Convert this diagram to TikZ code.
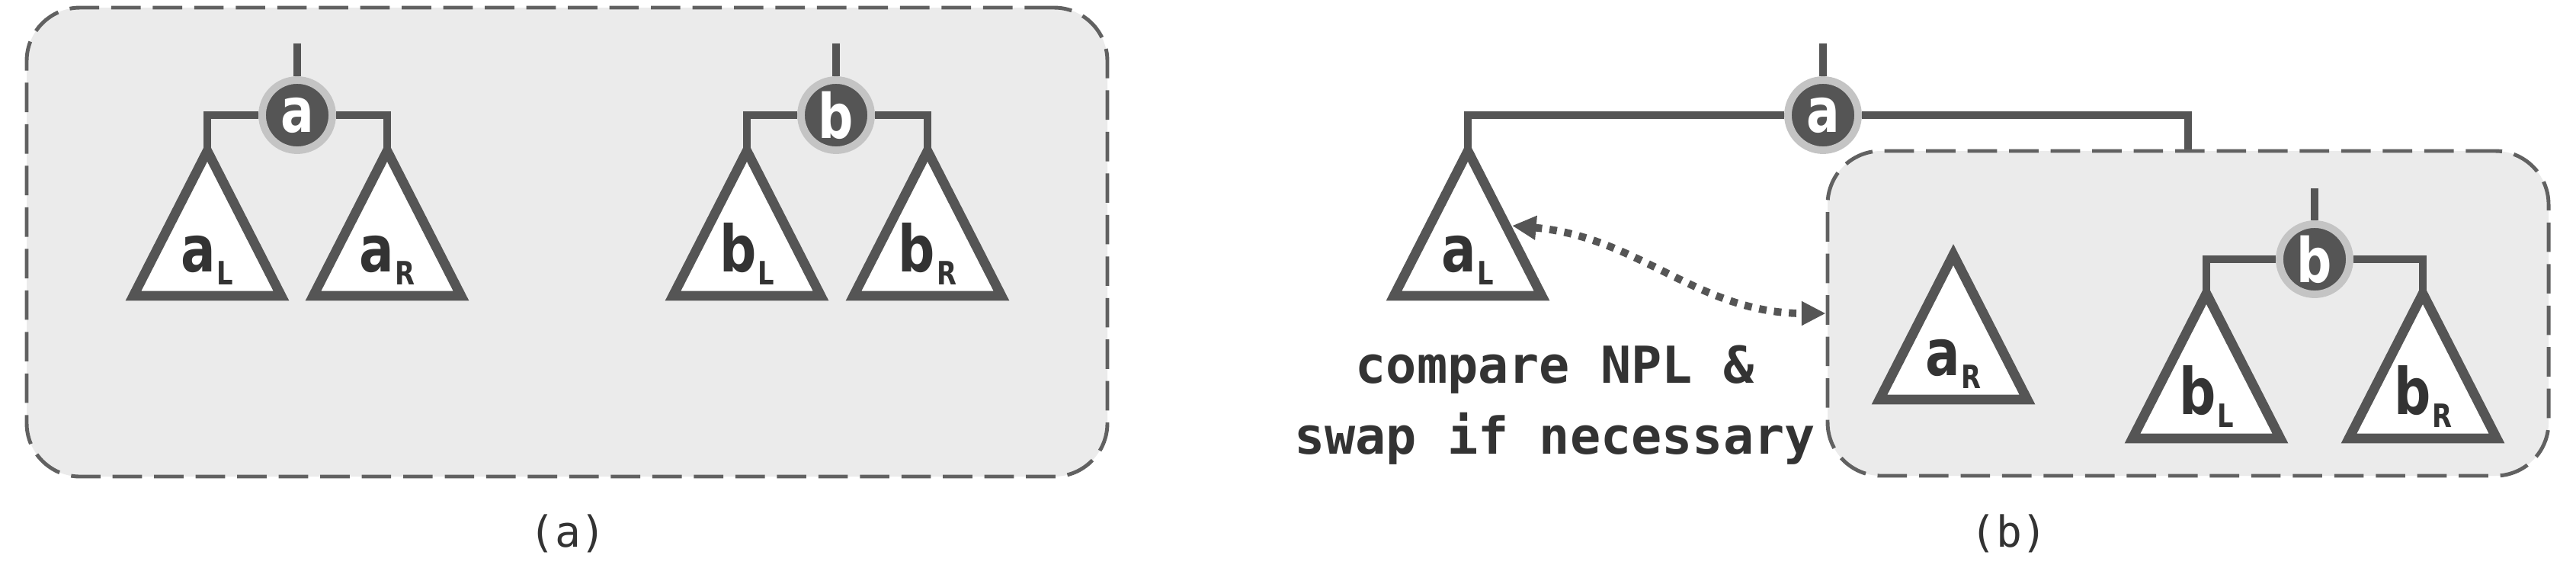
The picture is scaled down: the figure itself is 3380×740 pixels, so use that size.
\documentclass[tikz,border=0pt]{standalone}
\usepackage{fontspec}
\setmonofont{DejaVu Sans Mono}
\newfontfamily\treefont[FakeStretch=0.8]{DejaVu Sans}
\usetikzlibrary{arrows.meta,positioning}

\definecolor{linegray}{HTML}{555555}
\definecolor{ringgray}{HTML}{C4C4C4}
\definecolor{boxgray}{HTML}{EBEBEB}
\definecolor{dashgray}{HTML}{616161}
\definecolor{textgray}{HTML}{333333}

\begin{document}
\begin{tikzpicture}[x=0.1mm,y=-0.1mm,
    panel/.style={draw=dashgray, fill=boxgray, line width=1.4pt, dash pattern=on 11pt off 4.5pt,
      rounded corners=7mm, inner sep=0},
    keynode/.style={circle, draw=ringgray, fill=linegray, line width=2.8pt, minimum size=9.2mm,
      inner sep=0, text=white, font=\treefont\bfseries\fontsize{23}{23}\selectfont},
    branch/.style={draw=linegray, line width=2.6pt},
    subtree/.style={draw=linegray, fill=white, line width=3.6pt, line join=miter},
    tlabel/.style={anchor=base, inner sep=0, text=textgray, font=\treefont\bfseries\fontsize{24}{24}\selectfont},
    swaplink/.style={draw=linegray, line width=2.8pt, dash pattern=on 2.8pt off 2.8pt,
      <->, >={Triangle[length=9pt,width=8.5pt]}},
    capt/.style={text=textgray, font=\ttfamily\fontsize{16}{16}\selectfont}
  ]
  \useasboundingbox (0,0) rectangle (3380,740);

  % the two panels
  \node[panel, minimum width=141.8mm, minimum height=61.5mm] (boxA) at (744,317.5) {};
  \node[panel, minimum width=94.6mm, minimum height=42.6mm] (boxB) at (2871,411) {};

  % subtrees
  \foreach \n/\x/\y/\m/\s in {aL1/272/198/a/L, aR1/508/198/a/R, bL1/980/198/b/L, bR1/1217/198/b/R,
      aL2/1926/198/a/L, aR2/2563/334/a/R, bL2/2895/385/b/L, bR2/3179/385/b/R}{
    \draw[subtree] (\x,\y) coordinate (\n) -- ++(97,190) -- ++(-194,0) -- cycle;
    \node[tlabel] (\n-text) at (\x,\y+158) {\m\kern0.5pt\raisebox{-5pt}{\fontsize{12}{12}\selectfont\s}};
  }

  % keys
  \node[keynode] (a1) at (390,151) {a};
  \node[keynode] (b1) at (1097,151) {b};
  \node[keynode] (a2) at (2392,151) {a};
  \node[keynode] (b2) at (3037,340) {b};

  \coordinate (a1-up) at (390,57);
  \coordinate (b1-up) at (1097,57);
  \coordinate (a2-up) at (2392,57);
  \coordinate (b2-up) at (3037,247);
  \coordinate (aL2-side) at (1984,296);

  \draw[branch] (a1) -- (a1-up);
  \draw[branch] (b1) -- (b1-up);
  \draw[branch] (a2) -- (a2-up);
  \draw[branch] (b2) -- (b2-up);

  \draw[branch] (a1) -| (aL1);
  \draw[branch] (a1) -| (aR1);
  \draw[branch] (b1) -| (bL1);
  \draw[branch] (b1) -| (bR1);
  \draw[branch] (a2) -| (aL2);
  \draw[branch] (a2) -| (boxB.north);
  \draw[branch] (b2) -| (bL2);
  \draw[branch] (b2) -| (bR2);

  \draw[swaplink] (aL2-side) to[out=-5,in=180] (boxB.west);

  \node[align=center, text=textgray, font=\ttfamily\bfseries\fontsize{19}{26.5}\selectfont]
    (note) at (2040,531) {compare NPL \&\\swap if necessary};

  \node[capt] (capA) at (745,700) {(a)};
  \node[capt] (capB) at (2636,700) {(b)};
\end{tikzpicture}
\end{document}
